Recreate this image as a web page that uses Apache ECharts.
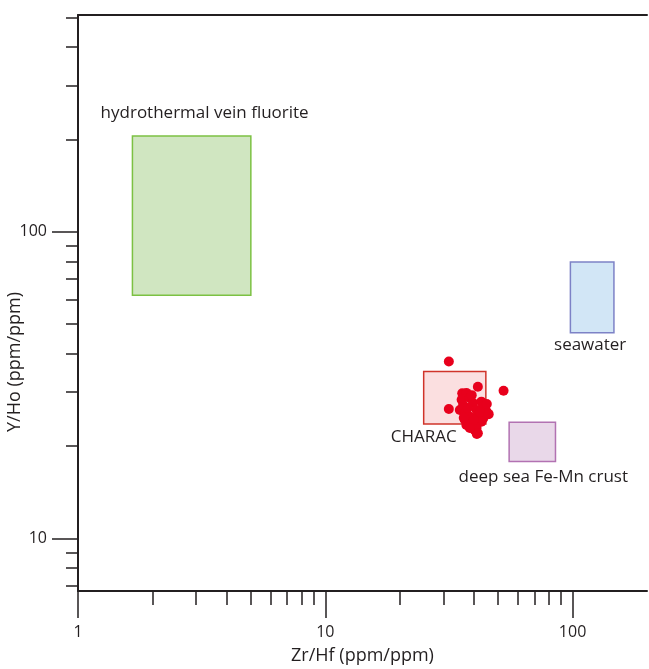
<!DOCTYPE html>
<html><head><meta charset="utf-8">
<script src="https://cdn.jsdelivr.net/npm/echarts@6/dist/echarts.min.js"></script>
<style>html,body{margin:0;padding:0;background:#fff}#c{width:649px;height:669px}</style>
</head><body><div id="c"></div>
<script>
// ---- data ----
const xMajorTicks = [1, 10, 100];
const xMinorTicks = [2, 3, 4, 5, 6, 7, 8, 9, 20, 30, 40, 50, 60, 70, 80, 90];
const yMajorTicks = [10, 100];
const yMinorTicks = [7, 8, 9, 20, 30, 40, 50, 60, 70, 80, 90, 200, 300, 400, 500];

const fieldNames = ['hydrothermal vein fluorite', 'seawater', 'deep sea Fe-Mn crust', 'CHARAC'];
const fieldZrHfMin = [1.66, 98, 55.4, 25.0];
const fieldZrHfMax = [5.0, 147, 85.3, 44.6];
const fieldYHoMin = [62, 46.8, 17.8, 23.6];
const fieldYHoMax = [205, 79.6, 23.9, 35.0];

const sampleZrHf = [31.6, 41.4, 52.6, 31.6, 35.8, 37.2, 35.6, 38.4, 39.6, 42.8, 43.5, 44.9, 35.0,
  36.7, 38.4, 41.5, 43.5, 37.2, 40.2, 42.8, 36.1, 40.9, 39.0, 36.7, 40.9, 41.0,
  36.3, 39.9, 42.2, 45.0, 37.7, 39.1, 45.8, 41.4, 38.4];
const sampleYHo = [37.7, 31.2, 30.3, 26.4, 29.7, 29.8, 28.3, 28.7, 27.6, 27.9, 26.9, 25.9, 26.2,
  25.6, 24.9, 25.2, 24.6, 23.4, 22.5, 24.0, 27.2, 26.2, 23.7, 24.3, 22.9, 21.9,
  24.7, 24.3, 25.8, 27.4, 26.6, 29.3, 25.4, 22.0, 22.9];

// ---- styles ----
const ink = '#231f20';
const fontFam = 'Open Sans';
const fieldStyles = [
  {fill: '#d0e6c1', stroke: '#7cc143', pos: 'top', dist: 14, off: [13, 0]},
  {fill: '#d2e6f6', stroke: '#7d82c6', pos: 'bottom', dist: 3, off: [-2, 0]},
  {fill: '#e9d8e9', stroke: '#b272b2', pos: 'bottom', dist: 6, off: [11, 0]},
  {fill: '#fbdfe0', stroke: '#d0342a', pos: 'bottom', dist: 4, off: [-31, 0]}
];

const fieldData = fieldNames.map((n, i) => [fieldZrHfMin[i], fieldZrHfMax[i], fieldYHoMin[i], fieldYHoMax[i]]);
const sampleData = sampleZrHf.map((x, i) => [x, sampleYHo[i]]);

const X_MIN = 1, X_MAX = 200, Y_MIN = 6.73, Y_MAX = 509;
const lineSt = {color: ink, width: 2};
const tickSt = {color: ink, width: 1.5};
const labelSt = {color: ink, fontFamily: fontFam, fontSize: 16};
const nameSt = {color: ink, fontFamily: fontFam, fontSize: 18};

const chart = echarts.init(document.getElementById('c'), null, {renderer: 'canvas'});
chart.setOption({
  animation: false,
  backgroundColor: '#fff',
  grid: {left: 78, right: 2, top: 15, bottom: 78, containLabel: false, outerBoundsMode: 'none'},
  xAxis: [
    {type: 'log', min: X_MIN, max: X_MAX, position: 'bottom',
      axisLine: {show: true, lineStyle: lineSt},
      axisTick: {show: true, customValues: xMajorTicks, length: 27, lineStyle: tickSt},
      axisLabel: {show: true, customValues: xMajorTicks, margin: 33, ...labelSt},
      splitLine: {show: false}, minorTick: {show: false},
      name: 'Zr/Hf (ppm/ppm)', nameLocation: 'middle', nameGap: 56, nameMoveOverlap: false,
      nameTextStyle: nameSt},
    {type: 'log', min: X_MIN, max: X_MAX, position: 'bottom',
      axisLine: {show: false},
      axisTick: {show: true, customValues: xMinorTicks, length: 14, lineStyle: tickSt},
      axisLabel: {show: false}, splitLine: {show: false}},
    {type: 'log', min: X_MIN, max: X_MAX, position: 'top',
      axisLine: {show: true, lineStyle: lineSt},
      axisTick: {show: false}, axisLabel: {show: false}, splitLine: {show: false}}
  ],
  yAxis: [
    {type: 'log', min: Y_MIN, max: Y_MAX, position: 'left',
      axisLine: {show: true, lineStyle: lineSt},
      axisTick: {show: true, customValues: yMajorTicks, length: 26, lineStyle: tickSt},
      axisLabel: {show: true, customValues: yMajorTicks, margin: 31, ...labelSt},
      splitLine: {show: false}, minorTick: {show: false},
      name: 'Y/Ho (ppm/ppm)', nameLocation: 'middle', nameGap: 54, nameMoveOverlap: false,
      nameTextStyle: {...nameSt, padding: [0, 118, 0, 0]}},
    {type: 'log', min: Y_MIN, max: Y_MAX, position: 'left',
      axisLine: {show: false},
      axisTick: {show: true, customValues: yMinorTicks, length: 12, lineStyle: tickSt},
      axisLabel: {show: false}, splitLine: {show: false}}
  ],
  series: [
    {
      type: 'custom', xAxisIndex: 0, yAxisIndex: 0, z: 1,
      data: fieldData,
      encode: {x: [0, 1], y: [2, 3]},
      renderItem: function (params, api) {
        const i = params.dataIndex;
        const st = fieldStyles[i];
        const p0 = api.coord([api.value(0), api.value(3)]);
        const p1 = api.coord([api.value(1), api.value(2)]);
        return {
          type: 'rect',
          shape: {x: p0[0], y: p0[1], width: p1[0] - p0[0], height: p1[1] - p0[1]},
          style: {fill: st.fill, stroke: st.stroke, lineWidth: 1.5},
          textContent: {style: {text: fieldNames[i], fill: ink, fontFamily: fontFam, fontSize: 17}},
          textConfig: {position: st.pos, distance: st.dist, offset: st.off}
        };
      }
    },
    {
      type: 'scatter', xAxisIndex: 0, yAxisIndex: 0, z: 3,
      data: sampleData, symbol: 'circle', symbolSize: 10,
      itemStyle: {color: '#e8001c', opacity: 1}
    }
  ]
});
</script></body></html>
